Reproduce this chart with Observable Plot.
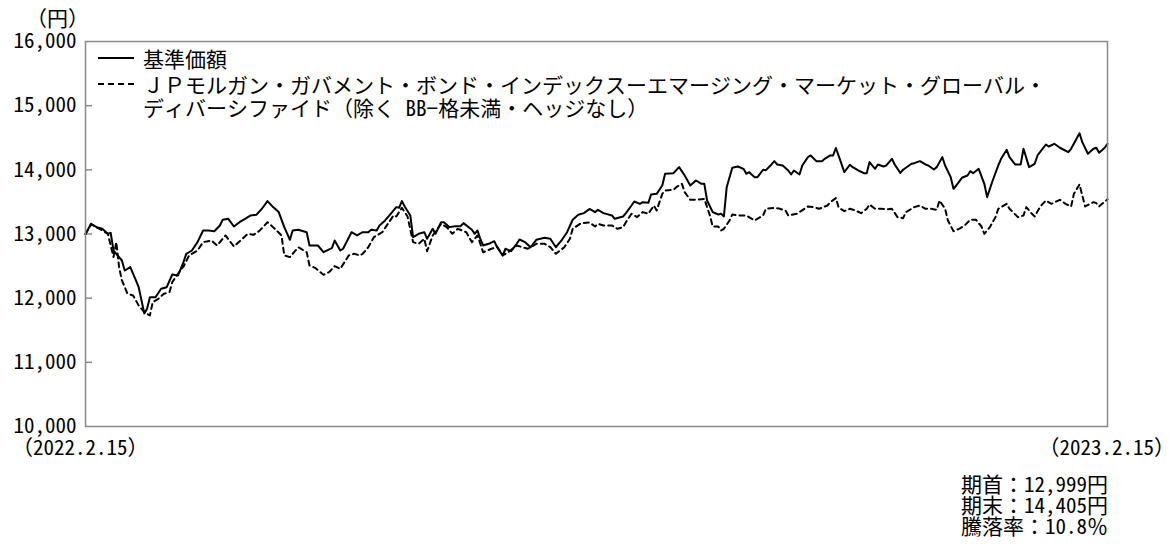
<!DOCTYPE html>
<html>
<head>
<meta charset="utf-8">
<script src="https://cdn.jsdelivr.net/npm/d3@7"></script>
<script src="https://cdn.jsdelivr.net/npm/@observablehq/plot@0.6"></script>
<style>
  html, body { margin: 0; padding: 0; background: #fff; }
  #wrap { position: relative; width: 1175px; height: 547px; overflow: hidden; }
  .lbl { position: absolute; font-family: "Noto Sans Mono CJK JP", "Noto Sans CJK JP", sans-serif; font-size: 21px; line-height: 20px; color: #000; white-space: pre; }
</style>
</head>
<body>
<div id="wrap"></div>
<script>
// ---- data (days since 2022-02-15, values in 円) ----
const startLabel = "2022.2.15";
const endLabel = "2023.2.15";
const seriesNames = ["基準価額", "ＪＰモルガン・ガバメント・ボンド・インデックスーエマージング・マーケット・グローバル・", "ディバーシファイド（除く BB−格未満・ヘッジなし）"];
const yTicks = [10000, 11000, 12000, 13000, 14000, 15000, 16000];

const navDays = [
  0,2,4,6,8,9,10,13,14,16,
  18,19,21,22,23,25,27,29,31,33,
  35,36,38,40,42,44,46,48,49,51,
  53,55,57,59,61,63,65,67,69,71,
  73,74,76,79,80,83,85,88,89,91,
  92,95,97,99,101,102,104,105,107,109,
  111,112,113,114,116,117,119,121,122,124,
  125,127,128,130,132,134,135,138,139,140,
  141,142,144,146,147,149,150,152,154,155,
  157,159,161,164,166,168,170,172,174,176,
  178,180,182,183,185,188,189,192,193,195,
  196,198,199,201,202,204,206,207,210,212,
  214,216,218,220,221,222,224,226,227,228,
  229,231,233,235,236,237,239,240,242,243,
  245,246,247,249,251,252,253,255,256,258,
  259,261,263,264,266,267,268,270,271,273,
  274,276,278,279,280,282,283,285,286,288,
  289,291,292,295,296,298,300,301,303,304,
  306,307,309,310,311,313,315,316,317,319,
  321,322,324,326,327,329,330,332,334,335,
  337,339,340,343,344,346,348,351,352,355,
  356,358,360,361,362,364,365
];
const navValues = [
  12999,13160,13106,13081,13003,13018,12743,12587,12431,12483,
  12276,12171,11760,11835,12015,12015,12146,12171,12369,12353,
  12561,12692,12743,12873,13055,13055,13044,13133,13222,13237,
  13117,13184,13237,13289,13299,13393,13512,13419,13341,13107,
  12910,13055,13066,13028,12821,12821,12716,12780,12899,12743,
  12770,13028,12977,13028,13028,13066,13055,13133,13211,13315,
  13419,13409,13512,13429,13289,12951,13003,13028,12925,13081,
  13003,13184,13184,13107,13122,13122,13169,13066,13003,13055,
  12925,12821,12847,12888,12794,12665,12770,12732,12847,12914,
  12873,12794,12910,12941,12925,12794,12899,13028,13222,13299,
  13325,13390,13341,13377,13325,13289,13237,13273,13325,13444,
  13507,13470,13496,13486,13616,13626,13756,13938,13948,14042,
  13912,13756,13834,13782,13782,13522,13341,13304,13315,13273,
  13730,14032,14052,14016,13938,13964,13886,13886,14001,13995,
  14084,14135,14084,14068,13990,13927,13990,13927,14068,14198,
  14224,14135,14135,14172,14224,14224,14340,14094,13964,14079,
  14042,13990,13948,13948,14120,14016,14084,14052,14068,14172,
  14084,13953,14001,14094,14104,14135,14084,14068,14006,14042,
  14198,14068,13886,13704,13756,13876,13912,13979,13948,14016,
  13782,13574,13834,14068,14172,14312,14198,14084,14084,14328,
  14042,14094,14224,14395,14364,14406,14344,14276,14328,14571,
  14431,14250,14328,14344,14266,14344,14405
];

const idxDays = [
  0,2,5,8,10,11,12,13,15,17,
  19,21,23,24,26,28,30,31,33,35,
  37,40,42,45,47,50,53,56,58,60,
  62,65,67,70,71,73,76,79,80,82,
  85,87,89,91,94,96,98,99,101,103,
  106,108,110,111,113,115,117,119,121,122,
  124,127,129,131,133,136,138,140,142,145,
  147,149,151,154,156,158,161,164,166,168,
  171,173,174,177,180,182,183,185,188,190,
  192,193,195,197,199,201,203,204,206,207,
  210,211,213,214,216,218,221,223,224,226,
  227,228,230,231,233,236,238,239,242,243,
  246,248,250,251,254,255,258,260,262,265,
  266,268,269,271,273,275,277,279,280,282,
  284,286,288,290,292,293,295,296,298,300,
  302,304,305,307,308,310,312,314,316,318,
  320,321,323,325,326,329,330,333,335,336,
  338,339,341,343,345,348,350,352,353,355,
  356,357,360,361,362,365
];
const idxValues = [
  12999,13150,13081,13003,12640,12873,12483,12276,12069,12042,
  11886,11782,11730,11937,11990,12069,12094,12250,12380,12494,
  12665,12743,12873,12899,12821,12977,12805,12925,13003,12987,
  13044,13184,13107,12977,12665,12640,12794,12716,12509,12473,
  12364,12405,12500,12457,12665,12692,12665,12692,12794,12951,
  13028,13158,13289,13273,13409,13273,12873,12847,12925,12732,
  12977,13158,13107,13003,13081,13028,12873,12977,12716,12770,
  12805,12665,12716,12821,12794,12770,12847,12847,12794,12692,
  12794,12925,13081,13169,13180,13117,13158,13133,13133,13081,
  13107,13184,13315,13263,13341,13315,13444,13366,13626,13678,
  13689,13730,13782,13652,13533,13533,13548,13289,13117,13117,
  13055,13081,13211,13304,13289,13289,13237,13211,13289,13393,
  13409,13393,13366,13289,13315,13341,13429,13419,13393,13444,
  13496,13560,13409,13356,13393,13366,13325,13393,13460,13393,
  13393,13384,13393,13263,13247,13341,13393,13419,13444,13393,
  13393,13377,13522,13393,13211,13044,13081,13133,13222,13222,
  13117,13003,13107,13263,13393,13470,13393,13263,13289,13419,
  13315,13273,13429,13522,13470,13533,13470,13429,13626,13772,
  13600,13429,13496,13481,13429,13540
];

// ---- build ----
const FONT = '"Noto Sans Mono CJK JP", "Noto Sans CJK JP", sans-serif';
const parse = s => { const [y, m, d] = s.split(".").map(Number); return new Date(Date.UTC(y, m - 1, d)); };
const start = parse(startLabel), end = parse(endLabel);
const toDate = d => d3.utcDay.offset(start, d);
const nav = navDays.map((d, i) => ({date: toDate(d), value: navValues[i]}));
const idx = idxDays.map((d, i) => ({date: toDate(d), value: idxValues[i]}));

const W = 1175, H = 547, ML = 85, MR = 68, MT = 41, MB = 121;

const chart = Plot.plot({
  width: W, height: H,
  marginLeft: ML, marginRight: MR, marginTop: MT, marginBottom: MB,
  style: {fontFamily: FONT, fontSize: "21px", color: "#000", background: "#fff"},
  x: {type: "utc", domain: [start, end], axis: null},
  y: {domain: [10000, 16000], axis: null, label: null},
  marks: [
    Plot.axisY(yTicks, {anchor: "left", label: null, tickSize: 0, tickPadding: 9, tickFormat: d3.format(","), fontSize: 21, fill: "#000"}),
    Plot.tickY(yTicks.slice(1, -1), {y: d => d, insetRight: W - ML - MR - 7, stroke: "#888", strokeWidth: 1.5}),
    Plot.line(idx, {x: "date", y: "value", stroke: "#000", strokeWidth: 2, strokeDasharray: "5,4"}),
    Plot.line(nav, {x: "date", y: "value", stroke: "#000", strokeWidth: 2}),
    Plot.frame({stroke: "#888", strokeWidth: 1.5})
  ]
});

const wrap = document.getElementById("wrap");
wrap.appendChild(chart);
chart.style.position = "absolute";
chart.style.left = "0px";
chart.style.top = "0px";

function label(text, x, yc, align) {
  const el = document.createElement("div");
  el.className = "lbl";
  el.textContent = text;
  el.style.top = (yc - 10) + "px";
  if (align === "right") el.style.right = (W - x) + "px";
  else el.style.left = x + "px";
  wrap.appendChild(el);
  return el;
}

// unit
label("（円）", 26, 17);
// legend
function swatch(x1, x2, yc, dash) {
  const ns = "http://www.w3.org/2000/svg";
  const s = document.createElementNS(ns, "svg");
  s.setAttribute("width", x2 - x1); s.setAttribute("height", 6);
  s.style.position = "absolute"; s.style.left = x1 + "px"; s.style.top = (yc - 3) + "px";
  const l = document.createElementNS(ns, "line");
  l.setAttribute("x1", 0); l.setAttribute("x2", x2 - x1); l.setAttribute("y1", 3); l.setAttribute("y2", 3);
  l.setAttribute("stroke", "#000"); l.setAttribute("stroke-width", 2);
  if (dash) l.setAttribute("stroke-dasharray", dash);
  s.appendChild(l); wrap.appendChild(s);
}
swatch(98, 134, 58, null);
swatch(98, 134, 84, "6,4");
label(seriesNames[0], 143, 58);
label(seriesNames[1], 143, 84);
label(seriesNames[2], 143, 107);

// period labels
label("（" + startLabel + "）", 12, 446);
label("（" + endLabel + "）", 1175, 446, "right");

// summary
const first = navValues[0], last = navValues[navValues.length - 1];
const chg = (last / first - 1) * 100;
label("期首：" + d3.format(",")(first) + "円", 961, 483);
label("期末：" + d3.format(",")(last) + "円", 961, 504);
label("騰落率：" + chg.toFixed(1) + "％", 961, 525);
</script>
</body>
</html>
